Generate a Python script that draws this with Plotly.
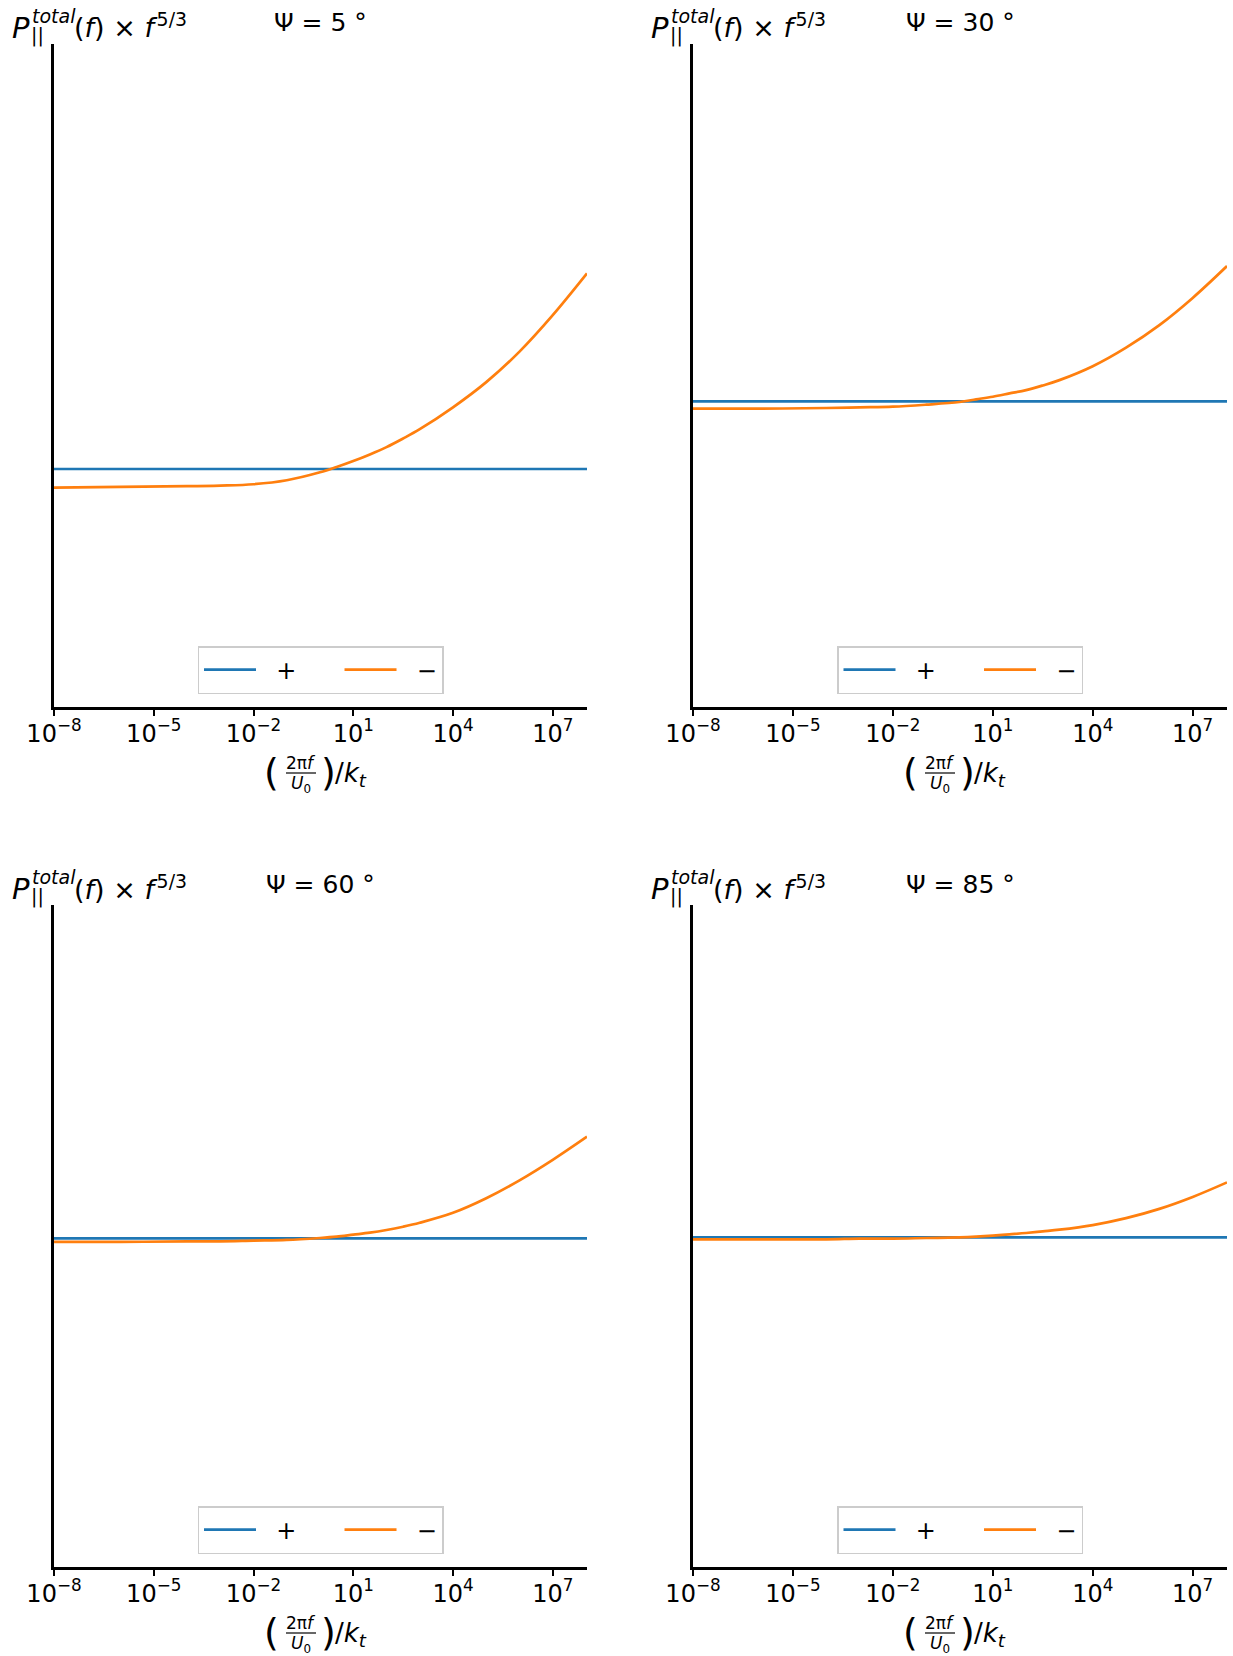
import numpy as np
import plotly.graph_objects as go

# ---------------- data ----------------
psi_labels = ["5", "30", "60", "85"]

# log10 of the normalised frequency (2*pi*f/U0)/k_t at which values were read
x_exp = [-8, -6, -4, -3, -2, -1, 0, 0.5, 1, 1.5, 2, 2.5, 3, 4, 5, 6, 7, 8.03]

# "+" branch: flat level (arbitrary units, axis has no tick labels)
plus_levels = [0.359, 0.461, 0.4965, 0.498]

# "-" branch values (arbitrary units)
minus_5 = [0.331, 0.332, 0.333, 0.334, 0.336, 0.342, 0.354, 0.362, 0.371, 0.381,
           0.392, 0.405, 0.419, 0.452, 0.490, 0.536, 0.591, 0.654]
minus_30 = [0.450, 0.450, 0.451, 0.452, 0.453, 0.456, 0.460, 0.464, 0.468, 0.473,
            0.478, 0.485, 0.493, 0.514, 0.542, 0.576, 0.617, 0.665]
minus_60 = [0.491, 0.491, 0.492, 0.492, 0.493, 0.494, 0.497, 0.499, 0.502, 0.505,
            0.509, 0.514, 0.520, 0.535, 0.557, 0.584, 0.615, 0.650]
minus_85 = [0.495, 0.495, 0.495, 0.496, 0.496, 0.497, 0.498, 0.499, 0.5005, 0.5025,
            0.5045, 0.507, 0.5095, 0.5165, 0.527, 0.541, 0.559, 0.581]
minus_series = [minus_5, minus_30, minus_60, minus_85]

tick_exps = [-8, -5, -2, 1, 4, 7]
tick_text = ["10<sup>%s</sup>" % (("−%d" % -e) if e < 0 else str(e)) for e in tick_exps]

NB = "\u00a0"
legend_names = [NB * 2 + "+" + NB * 5, NB * 2 + "−"]

# ---------------- styling / layout ----------------
W, H = 1233, 1656
BLUE = "#1f77b4"
ORANGE = "#ff7f0e"
FONT = "DejaVu Sans"

def px(x):
    return x / W

def py(y):
    return 1 - y / H

# panel boxes in pixels: (left, right, top, bottom)
panels = [(54, 587, 44, 707), (693, 1227, 44, 707),
          (54, 587, 905, 1567), (693, 1227, 905, 1567)]

x_vals = [10 ** e for e in x_exp]

fig = go.Figure()
annotations = []
shapes = []
layout = dict(
    width=W, height=H, autosize=False,
    margin=dict(l=0, r=0, t=0, b=0),
    paper_bgcolor="white", plot_bgcolor="white",
    template="none",
    font=dict(family=FONT, size=24, color="black"),
)

for i, (x0, x1, yt, yb) in enumerate(panels):
    n = "" if i == 0 else str(i + 1)
    xa, ya = "x" + n, "y" + n
    leg = "legend" + n
    cx = (x0 + x1) / 2

    fig.add_trace(go.Scatter(
        x=[x_vals[0], x_vals[-1]], y=[plus_levels[i], plus_levels[i]],
        mode="lines", line=dict(color=BLUE, width=2.7),
        name=legend_names[0], xaxis=xa, yaxis=ya, legend=leg, showlegend=True))
    fig.add_trace(go.Scatter(
        x=x_vals, y=minus_series[i],
        mode="lines", line=dict(color=ORANGE, width=2.7, shape="spline", smoothing=1.0),
        name=legend_names[1], xaxis=xa, yaxis=ya, legend=leg, showlegend=True))

    layout["xaxis" + n] = dict(
        type="log", range=[x_exp[0], x_exp[-1]],
        domain=[px(x0), px(x1)], anchor=ya,
        showline=True, linecolor="black", linewidth=2.5,
        ticks="outside", ticklen=6, tickwidth=2, tickcolor="black",
        tickvals=[10 ** e for e in tick_exps], ticktext=tick_text,
        tickfont=dict(family=FONT, size=24, color="black"),
        showgrid=False, zeroline=False, mirror=False,
    )
    layout["yaxis" + n] = dict(
        range=[0, 1], domain=[py(yb), py(yt)], anchor=xa,
        showline=True, linecolor="black", linewidth=2.5,
        ticks="", showticklabels=False, showgrid=False, zeroline=False,
    )
    layout[leg] = dict(
        x=px(cx), xanchor="center", y=py(yb - 13), yanchor="bottom",
        orientation="h", bgcolor="rgba(255,255,255,0.8)",
        bordercolor="#cccccc", borderwidth=1.5,
        font=dict(family=FONT, size=24, color="black"),
        itemwidth=52, tracegroupgap=0,
    )

    def ann(text, x, y, size=24, xanchor="left", yanchor="middle"):
        annotations.append(dict(
            text=text, x=px(x), y=py(y), xref="paper", yref="paper",
            xanchor=xanchor, yanchor=yanchor, showarrow=False,
            font=dict(family=FONT, size=size, color="black"), borderpad=0))

    # title
    ann("Ψ = %s °" % psi_labels[i], cx, yt - 21, 25, "center")
    # y label  P_||^total(f) x f^{5/3}
    ann("<i>P</i>", x0 - 43, yt - 16, 29)
    ann("<i>total</i>", x0 - 23, yt - 28, 19)
    ann("||", x0 - 24, yt - 8, 19)
    ann("(<i>f</i>) × <i>f</i>\u200a<sup>5/3</sup>", x0 + 19, yt - 18, 27)
    # x label  (2 pi f / U0) / k_t
    ann("(", x0 + 209, yb + 65, 38)
    ann("2π<i>f</i>", x0 + 247, yb + 56, 17, "center")
    ann("<i>U</i><sub>0</sub>", x0 + 247, yb + 77, 17, "center")
    ann(")", x0 + 266, yb + 65, 38)
    ann("/<i>k</i><sub><i>t</i></sub>", x0 + 280, yb + 67, 26)
    shapes.append(dict(type="line", xref="paper", yref="paper",
                       x0=px(x0 + 232), x1=px(x0 + 262), y0=py(yb + 66), y1=py(yb + 66),
                       line=dict(color="black", width=1.2)))

layout["annotations"] = annotations
layout["shapes"] = shapes
fig.update_layout(**layout)
try:
    fig.update_xaxes(ticklabelstandoff=-3)
except Exception:
    pass
fig.write_html("out.html")
